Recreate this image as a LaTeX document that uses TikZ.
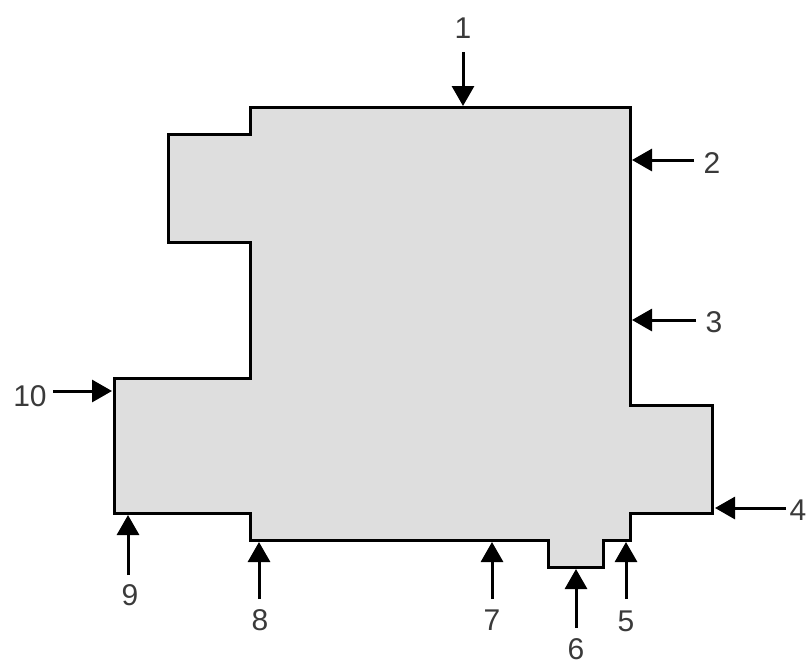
\documentclass[tikz,border=0pt]{standalone}
\usepackage{fontspec}
\setmainfont{Liberation Sans}
\usetikzlibrary{arrows.meta}
\definecolor{shapefill}{HTML}{DEDEDE}
\definecolor{labelgray}{HTML}{3A3A3A}
\begin{document}
\begin{tikzpicture}[x=1pt,y=-1pt,
  outline/.style={draw=black,line width=3pt,fill=shapefill,line join=miter},
  pointer/.style={draw=black,line width=3pt,-{Triangle[width=22pt,length=20pt]}},
  numlabel/.style={text=labelgray,font=\fontsize{30}{30}\selectfont,inner sep=0pt}]
\useasboundingbox (0,0) rectangle (811,670);
\draw[outline] (250,107) -- (630,107) -- (630,405) -- (712,405) -- (712,513)
  -- (630,513) -- (630,540) -- (603,540) -- (603,567) -- (548,567) -- (548,540)
  -- (250,540) -- (250,513) -- (114,513) -- (114,378) -- (250,378) -- (250,242)
  -- (168,242) -- (168,134) -- (250,134) -- cycle;
% labels
\node[numlabel] (l1) at (463,28) {1};
\node[numlabel] (l2) at (712,163) {2};
\node[numlabel] (l3) at (714,322) {3};
\node[numlabel] (l4) at (798,510) {4};
\node[numlabel] (l5) at (626,621) {5};
\node[numlabel] (l6) at (576,649) {6};
\node[numlabel] (l7) at (492,620) {7};
\node[numlabel] (l8) at (260,620) {8};
\node[numlabel] (l9) at (130,595) {9};
\node[numlabel] (l10) at (30,396) {10};
% arrow tails and tips
\coordinate (s1) at (463,52);  \coordinate (t1) at (463,106);
\coordinate (s2) at (694,160); \coordinate (t2) at (632,160);
\coordinate (s3) at (696,320); \coordinate (t3) at (632,320);
\coordinate (s4) at (786,508); \coordinate (t4) at (715,508);
\coordinate (s5) at (626,599); \coordinate (t5) at (626,542);
\coordinate (s6) at (576,628); \coordinate (t6) at (576,569);
\coordinate (s7) at (492,599); \coordinate (t7) at (492,542);
\coordinate (s8) at (259,599); \coordinate (t8) at (259,542);
\coordinate (s9) at (128,575); \coordinate (t9) at (128,515);
\coordinate (s10) at (53,391); \coordinate (t10) at (112,391);
\foreach \i in {1,...,10} {\draw[pointer] (s\i) -- (t\i);}
\end{tikzpicture}
\end{document}
